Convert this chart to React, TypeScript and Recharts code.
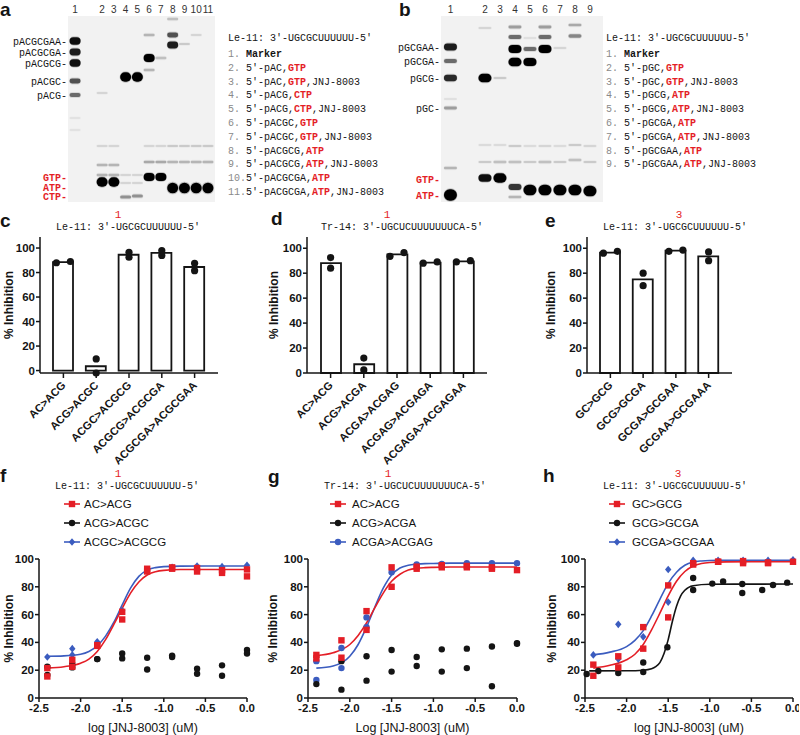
import React from "react";
import { Bar, ComposedChart, Legend, Line, Scatter, ScatterChart, XAxis, YAxis } from "recharts";

const SANS = "'Liberation Sans', Arial, Helvetica, sans-serif";
const MONO = "'Liberation Mono', 'Courier New', monospace";
const RED = "#E41E26";
const BLUE = "#3B5CBF";
const INK = "#141414";

// ---- a: gel, Le-11 primer extension ----
const lanesA = [1, 2, 3, 4, 5, 6, 7, 8, 9, 10, 11];
const markerNamesA = ["pACGCGAA", "pACGCGA", "pACGCG", "pACGC", "pACG", "GTP", "ATP", "CTP"];
const markerPosA = [41, 52, 63, 81, 95, 177, 187, 196];
// [lane, migration (px from top), band strength]
const bandsA = [
  [1, 41, 0.95], [1, 52, 0.9], [1, 63, 0.95], [1, 81, 0.7], [1, 95, 0.6], [1, 118, 0.08], [1, 130, 0.08],
  [2, 93, 0.15], [2, 146, 0.15], [2, 165, 0.3], [2, 175, 0.3], [2, 182, 1.1],
  [3, 146, 0.15], [3, 165, 0.3], [3, 175, 0.3], [3, 182, 1.1],
  [4, 77, 1.1], [4, 175, 0.15], [4, 183, 0.15], [4, 197, 0.45],
  [5, 77, 1.1], [5, 175, 0.15], [5, 183, 0.15], [5, 196, 0.45],
  [6, 35, 0.3], [6, 58, 1.0], [6, 70, 0.3], [6, 146, 0.15], [6, 162, 0.35], [6, 177, 1.0],
  [7, 58, 0.25], [7, 146, 0.15], [7, 162, 0.35], [7, 177, 1.0],
  [8, 19, 0.25], [8, 35, 0.7], [8, 45, 0.9], [8, 146, 0.2], [8, 162, 0.3], [8, 188, 1.2],
  [9, 44, 0.2], [9, 146, 0.2], [9, 162, 0.3], [9, 188, 1.2],
  [10, 35, 0.15], [10, 146, 0.2], [10, 162, 0.3], [10, 188, 1.2],
  [11, 146, 0.2], [11, 162, 0.3], [11, 188, 1.2],
];
const laneTextA = [
  "Marker", "5′-pAC,GTP", "5′-pAC,GTP,JNJ-8003", "5′-pACG,CTP", "5′-pACG,CTP,JNJ-8003",
  "5′-pACGC,GTP", "5′-pACGC,GTP,JNJ-8003", "5′-pACGCG,ATP", "5′-pACGCG,ATP,JNJ-8003",
  "5′-pACGCGA,ATP", "5′-pACGCGA,ATP,JNJ-8003",
];

// ---- b: gel ----
const lanesB = [1, 2, 3, 4, 5, 6, 7, 8, 9];
const markerNamesB = ["pGCGAA", "pGCGA", "pGCG", "pGC", "GTP", "ATP"];
const markerPosB = [47, 61, 78, 108, 179, 195];
const bandsB = [
  [1, 47, 0.9], [1, 61, 0.6], [1, 78, 0.85], [1, 99, 0.1], [1, 108, 0.4], [1, 168, 0.3], [1, 195, 1.25],
  [2, 28, 0.15], [2, 78, 1.05], [2, 145, 0.12], [2, 162, 0.2], [2, 178, 0.95],
  [3, 78, 0.2], [3, 145, 0.12], [3, 162, 0.25], [3, 178, 1.1],
  [4, 27, 0.4], [4, 37, 0.6], [4, 49, 1.0], [4, 62, 1.05], [4, 146, 0.2], [4, 162, 0.25], [4, 187, 0.8], [4, 197, 0.3],
  [5, 38, 0.1], [5, 49, 0.6], [5, 62, 1.0], [5, 146, 0.12], [5, 162, 0.2], [5, 190, 1.2],
  [6, 27, 0.4], [6, 37, 0.6], [6, 49, 1.0], [6, 146, 0.15], [6, 162, 0.25], [6, 190, 1.2],
  [7, 48, 0.15], [7, 146, 0.12], [7, 162, 0.2], [7, 190, 1.2],
  [8, 25, 0.35], [8, 36, 0.5], [8, 145, 0.2], [8, 160, 0.25], [8, 190, 1.2],
  [9, 146, 0.15], [9, 162, 0.2], [9, 191, 1.2],
];
const laneTextB = [
  "Marker", "5′-pGC,GTP", "5′-pGC,GTP,JNJ-8003", "5′-pGCG,ATP", "5′-pGCG,ATP,JNJ-8003",
  "5′-pGCGA,ATP", "5′-pGCGA,ATP,JNJ-8003", "5′-pGCGAA,ATP", "5′-pGCGAA,ATP,JNJ-8003",
];

const LE11 = "Le-11: 3′-UGCGCUUUUUU-5′";
const TR14 = "Tr-14: 3′-UGCUCUUUUUUUCA-5′";

// ---- c, d, e: single-dose inhibition ----
const catsC = ["AC>ACG", "ACG>ACGC", "ACGC>ACGCG", "ACGCG>ACGCGA", "ACGCGA>ACGCGAA"];
const meanC = [88.5, 3.5, 94.5, 96, 84.5];
const rep1C = [88, 9.5, 92.5, 94, 87.5];
const rep2C = [89, -2, 96.5, 98, 81.5];

const catsD = ["AC>ACG", "ACG>ACGA", "ACGA>ACGAG", "ACGAG>ACGAGA", "ACGAGA>ACGAGAA"];
const meanD = [88, 7, 95, 88.5, 89.5];
const rep1D = [92.5, 12, 93.5, 88, 89];
const rep2D = [84, 2.5, 96.5, 89, 90];

const catsE = ["GC>GCG", "GCG>GCGA", "GCGA>GCGAA", "GCGAA>GCGAAA"];
const meanE = [96.5, 75, 98, 93.5];
const rep1E = [96, 80, 97.5, 97];
const rep2E = [97.5, 70, 98.5, 90];

const pctTicks = [0, 20, 40, 60, 80, 100];
const doseTicks = [-2.5, -2.0, -1.5, -1.0, -0.5, 0];

// ---- f, g, h: dose response ----
const doses = [-2.4, -2.1, -1.8, -1.5, -1.2, -0.9, -0.6, -0.3, 0];
const fitX = [-2.4, -2.2, -2.0, -1.9, -1.8, -1.7, -1.6, -1.5, -1.4, -1.3, -1.2, -1.1, -1.0, -0.8, -0.5, 0];

const fAcgA = [21.5, 27.5, 38, 62, 93, 94, 93.5, 92, 92.5];
const fAcgB = [15.5, 22.5, 37.5, 56.5, 91, 93, 91, 90, 87.5];
const fAcgcA = [22.5, 24.5, 28, 32, 29, 30.5, 21, 23.5, 34.5];
const fAcgcB = [16.5, 22, 28, 28.5, 20.5, 29.5, 17.5, 16, 32];
const fAcgcgA = [29.5, 35.5, 40.5, 63, 92, 94, 95, 94.5, 95.5];
const fAcgcgB = [null, 31, null, null, null, null, null, null, null];
const fAcgFit = [21.5, 22.5, 25, 28, 33.5, 42, 53, 64.5, 75.5, 83.5, 88.5, 90.8, 91.8, 92.4, 92.5, 92.5];
const fAcgcgFit = [30, 30.3, 31.5, 33.5, 37.5, 44.5, 54.5, 67, 79, 87.5, 92, 93.8, 94.5, 94.9, 95, 95];

const gAcgA = [31, 41.5, 62.5, 94, 94.5, 95.5, 95, 94, 92];
const gAcgB = [28.5, 29, 49, 80, 93, 94, 94, 93, null];
const gAcgaA = [10, 26.5, 30, 34.5, 29.5, 35, 35.5, 37, 39.5];
const gAcgaB = [null, 6, 12.5, 19, 23, 19, 21.5, 8.5, 39];
const gAcgagA = [26.5, 36, 58, 90.5, 96, 96.5, 97, 97, 97];
const gAcgagB = [13, 21.5, 51, null, null, null, null, null, null];
const gAcgFit = [30.5, 32.5, 38.5, 45, 54, 65, 75.5, 84, 89, 92, 93.3, 93.8, 94, 94.2, 94.2, 94.2];
const gAcgagFit = [21.5, 23, 30, 38.5, 51, 65.5, 79, 88.5, 93.5, 95.5, 96.3, 96.7, 96.8, 97, 97, 97];

const hGcgA = [24, 30, 51, 81, 97, 98, 98.5, 97.5, 98];
const hGcgB = [16, 22, 35.5, 58, 96, 98, 97, 97, null];
const hGcgaaA = [31, 53, 44, 92.5, 99, 99, 99, 99, 99.5];
const hGcgaaB = [null, 28, null, 69, null, null, null, null, null];
const hGcgaX = [-2.48, -2.34, -2.1, -1.8, -1.8, -1.51, -1.2, -1.2, -0.97, -0.84, -0.61, -0.61, -0.37, -0.24, -0.07];
const hGcgaY = [17.3, 19.4, 18, 18.7, 25.5, 36.5, 86.3, 77.7, 82.3, 83.8, 82, 75.5, 77.7, 81.3, 83];
const hGcgFit = [21.5, 23.5, 27.5, 31.5, 38.5, 49, 61, 73.5, 84, 91, 95, 96.8, 97.5, 97.9, 98, 98];
const hGcgaaFit = [31, 33, 37, 41.5, 48.5, 59, 71, 82.5, 90.5, 95.5, 97.8, 98.6, 98.9, 99, 99, 99];
const hGcgaFitX = [-2.45, -2.0, -1.8, -1.7, -1.65, -1.6, -1.55, -1.5, -1.45, -1.4, -1.35, -1.3, -1.2, -1.0, 0];
const hGcgaFit = [19.5, 19.6, 20, 21, 22.5, 25.5, 32, 42, 55, 66, 73.5, 77.5, 80.8, 81.8, 82];

const pts = (xs: number[], ...sets: (number | null)[][]) =>
  sets.flatMap((ys) => ys.flatMap((y, i) => (y == null ? [] : [{ x: xs[i], y }])));
const fit = (xs: number[], ys: number[]) => xs.map((x, i) => ({ x, y: ys[i] }));

const seriesF = [
  { name: "AC>ACG", color: RED, marker: "square", points: pts(doses, fAcgA, fAcgB), curve: fit(fitX, fAcgFit) },
  { name: "ACG>ACGC", color: INK, marker: "circle", points: pts(doses, fAcgcA, fAcgcB) },
  { name: "ACGC>ACGCG", color: BLUE, marker: "diamond", points: pts(doses, fAcgcgA, fAcgcgB), curve: fit(fitX, fAcgcgFit) },
];
const seriesG = [
  { name: "AC>ACG", color: RED, marker: "square", points: pts(doses, gAcgA, gAcgB), curve: fit(fitX, gAcgFit) },
  { name: "ACG>ACGA", color: INK, marker: "circle", points: pts(doses, gAcgaA, gAcgaB) },
  { name: "ACGA>ACGAG", color: BLUE, marker: "circle", points: pts(doses, gAcgagA, gAcgagB), curve: fit(fitX, gAcgagFit) },
];
const seriesH = [
  { name: "GC>GCG", color: RED, marker: "square", points: pts(doses, hGcgA, hGcgB), curve: fit(fitX, hGcgFit) },
  { name: "GCG>GCGA", color: INK, marker: "circle", points: pts(hGcgaX, hGcgaY), curve: fit(hGcgaFitX, hGcgaFit) },
  { name: "GCGA>GCGAA", color: BLUE, marker: "diamond", points: pts(doses, hGcgaaA, hGcgaaB), curve: fit(fitX, hGcgaaFit) },
];

const axisPen = { stroke: INK, strokeWidth: 1.5 };
const tickFont = { fontSize: 11.5, fontWeight: 700, fill: INK, fontFamily: SANS };

// lane 1 (marker) sits a little apart from the rest
const laneSlot = (lane: number) => (lane === 1 ? 0.7 : lane + 1);

function GelBand({ cx, cy, payload, w }: any) {
  const v = payload.v;
  const h = 2 + 6 * v * v;
  const a = Math.min(1, 0.6 * v + 0.4 * v * v);
  return (
    <g>
      <rect x={cx - w / 2 - 0.5} y={cy - h / 2 - 1} width={w + 1} height={h + 2} rx={Math.min((h + 2) / 2, w / 2)} fill="#000" fillOpacity={a * 0.2} />
      <rect x={cx - w / 2} y={cy - h / 2} width={w} height={h} rx={Math.min(h / 2, w / 2)} fill="#000" fillOpacity={a} />
    </g>
  );
}

function MarkerTick({ x, y, payload, names, positions }: any) {
  const name = names[positions.indexOf(payload.value)];
  const ntp = /TP$/.test(name);
  return (
    <text x={x} y={y} dy={3.5} textAnchor="end" fontFamily={MONO} fontSize={10} fontWeight={ntp ? 700 : 400} fill={ntp ? RED : INK}>
      {name}-
    </text>
  );
}

function Gel({ left, axisWidth, plotWidth, xDomain, lanes, markerNames, markerPos, bands, bandWidth }: any) {
  const data = bands.map(([lane, pos, v]: number[]) => ({ slot: laneSlot(lane), pos, v }));
  const slots = lanes.map(laneSlot);
  return (
    <div style={{ position: "absolute", left, top: 0 }}>
      <div style={{ position: "absolute", left: axisWidth, top: 16, width: plotWidth, height: 186, background: "#f2f2f2" }} />
      <ScatterChart width={axisWidth + plotWidth} height={202} margin={{ top: 0, right: 0, bottom: 0, left: 0 }}>
        <XAxis
          type="number" dataKey="slot" orientation="top" height={16} domain={xDomain} ticks={slots} interval={0}
          tickFormatter={(s: number) => String(lanes[slots.indexOf(s)])}
          axisLine={false} tickLine={false} tickSize={0} tickMargin={3}
          tick={{ fontSize: 10, fill: "#333", fontFamily: SANS }} allowDataOverflow
        />
        <YAxis
          type="number" dataKey="pos" reversed domain={[16, 202]} width={axisWidth} ticks={markerPos} interval={0}
          axisLine={false} tickLine={false} tickSize={0} tickMargin={1}
          tick={(p: any) => <MarkerTick {...p} names={markerNames} positions={markerPos} />} allowDataOverflow
        />
        <Scatter data={data} isAnimationActive={false} shape={(p: any) => <GelBand {...p} w={bandWidth} />} />
      </ScatterChart>
    </div>
  );
}

function GelKey({ left, template, items }: any) {
  return (
    <div style={{ position: "absolute", left, top: 32, fontFamily: MONO, fontSize: 10, lineHeight: "13.8px", color: INK, whiteSpace: "pre" }}>
      <div style={{ height: 16 }}>{template}</div>
      {items.map((t: string, i: number) => (
        <div key={i}>
          <span style={{ color: "#8a8a8a" }}>{`${i + 1}.`.padEnd(3, " ")}</span>
          {t.split(",").map((part, j) => (
            <React.Fragment key={j}>
              {j > 0 ? "," : ""}
              <span style={/TP$/.test(part) ? { color: RED, fontWeight: 700 } : part === "Marker" ? { fontWeight: 700 } : undefined}>{part}</span>
            </React.Fragment>
          ))}
        </div>
      ))}
    </div>
  );
}

const centered = (x: number, y: number): React.CSSProperties => ({
  position: "absolute", left: x, top: y, transform: "translate(-50%, -50%)", whiteSpace: "pre", lineHeight: 1,
});

function Heading({ num, numX, numY, textX, textY, text }: any) {
  return (
    <>
      <div style={{ ...centered(numX, numY), color: RED, fontFamily: MONO, fontSize: 11 }}>{num}</div>
      <div style={{ ...centered(textX, textY), fontFamily: MONO, fontSize: 10, color: INK }}>{text}</div>
    </>
  );
}

function PanelLetter({ x, y, children }: any) {
  return (
    <div style={{ position: "absolute", left: x, top: y, fontFamily: SANS, fontWeight: 700, fontSize: 19, lineHeight: "19px", color: INK }}>
      {children}
    </div>
  );
}

function YTitle({ viewBox, dx }: any) {
  const x = viewBox.x + dx;
  const y = viewBox.y + viewBox.height / 2;
  return (
    <text x={x} y={y} transform={`rotate(-90 ${x} ${y})`} textAnchor="middle" dominantBaseline="central" fontFamily={SANS} fontSize={12} fontWeight={700} fill={INK}>
      % Inhibition
    </text>
  );
}

function XTitle({ viewBox, text }: any) {
  return (
    <text x={viewBox.x + viewBox.width / 2} y={viewBox.y + 33.5} textAnchor="middle" fontFamily={SANS} fontSize={12.5} fill={INK}>
      {text}
    </text>
  );
}

function SlantTick({ x, y, payload }: any) {
  const ax = x + 3;
  const ay = y + 6;
  return (
    <text x={ax} y={ay} transform={`rotate(-45 ${ax} ${ay})`} textAnchor="end" fontFamily={SANS} fontSize={11} fontWeight={700} fill={INK}>
      {payload.value}
    </text>
  );
}

// replicate dots: spread sideways when the two values nearly coincide
function RepDot({ cx, cy, payload, side }: any) {
  const dx = Math.abs(payload.r1 - payload.r2) < 4 ? side * 7 : 0;
  return <circle cx={cx + dx} cy={cy} r={3.6} fill={INK} />;
}

function InhibitionBars({ left, axisW, plotWidth, cats, mean, rep1, rep2, yTitleX }: any) {
  const rows = cats.map((name: string, i: number) => ({ name, mean: mean[i], r1: rep1[i], r2: rep2[i] }));
  return (
    <div style={{ position: "absolute", left, top: 230 }}>
      <ComposedChart width={axisW + plotWidth + 10} height={245} data={rows} margin={{ top: 7, right: 10, bottom: 0, left: 0 }}>
        <XAxis
          dataKey="name" type="category" interval={0} height={102} padding={{ left: 7, right: 7 }}
          axisLine={axisPen} tickLine={axisPen} tickSize={5} tick={<SlantTick />}
        />
        <YAxis
          type="number" domain={[0, 109]} ticks={pctTicks} interval={0} width={axisW}
          axisLine={axisPen} tickLine={axisPen} tickSize={4} tickMargin={1} tick={tickFont}
          label={{ value: "% Inhibition", content: (p: any) => <YTitle viewBox={p.viewBox} dx={yTitleX} /> }}
        />
        <Bar dataKey="mean" fill="#fff" stroke={INK} strokeWidth={1.8} barSize={20} isAnimationActive={false} />
        <Scatter dataKey="r1" isAnimationActive={false} shape={(p: any) => <RepDot {...p} side={-1} />} />
        <Scatter dataKey="r2" isAnimationActive={false} shape={(p: any) => <RepDot {...p} side={1} />} />
      </ComposedChart>
    </div>
  );
}

function Marker({ kind, cx, cy, color }: any) {
  if (kind === "square") return <rect x={cx - 3.2} y={cy - 3.2} width={6.4} height={6.4} fill={color} />;
  if (kind === "diamond")
    return <polygon points={`${cx},${cy - 3.8} ${cx + 3.2},${cy} ${cx},${cy + 3.8} ${cx - 3.2},${cy}`} fill={color} />;
  return <circle cx={cx} cy={cy} r={3.2} fill={color} />;
}

function DoseKey({ series, markX, textX }: any) {
  return (
    <svg width={250} height={72} style={{ display: "block" }}>
      {series.map((s: any, i: number) => {
        const y = 24 + 19 * i;
        return (
          <g key={s.name}>
            <line x1={markX - 8} x2={markX + 8} y1={y} y2={y} stroke={s.color} strokeWidth={1.6} />
            <Marker kind={s.marker} cx={markX} cy={y} color={s.color} />
            <text x={textX} y={y + 4.2} fontFamily={SANS} fontSize={11.5} fill={INK}>{s.name}</text>
          </g>
        );
      })}
    </svg>
  );
}

function DoseChart({ left, axisW, plotWidth, right, series, xTitle, yTitleX, markX, textX }: any) {
  const back = [...series].reverse();
  return (
    <div style={{ position: "absolute", left, top: 480 }}>
      <ComposedChart width={axisW + plotWidth + right} height={255} margin={{ top: 79, right, bottom: 0, left: 0 }}>
        <XAxis
          type="number" dataKey="x" domain={[-2.5, 0]} ticks={doseTicks} interval={0} height={37}
          tickFormatter={(v: number) => v.toFixed(1)} axisLine={axisPen} tickLine={axisPen} tickSize={4} tickMargin={2}
          tick={tickFont} label={{ value: xTitle, content: (p: any) => <XTitle viewBox={p.viewBox} text={xTitle} /> }}
        />
        <YAxis
          type="number" domain={[0, 100]} ticks={pctTicks} interval={0} width={axisW}
          axisLine={axisPen} tickLine={axisPen} tickSize={4} tickMargin={1} tick={tickFont}
          label={{ value: "% Inhibition", content: (p: any) => <YTitle viewBox={p.viewBox} dx={yTitleX} /> }}
        />
        <Legend
          layout="horizontal" verticalAlign="middle" align="center"
          wrapperStyle={{ left: 0, top: 0, width: 250, height: 72 }}
          content={() => <DoseKey series={series} markX={markX} textX={textX} />}
        />
        {back.filter((s: any) => s.curve).map((s: any) => (
          <Line key={`fit-${s.name}`} data={s.curve} dataKey="y" type="monotone" stroke={s.color} strokeWidth={1.6} dot={false} activeDot={false} isAnimationActive={false} />
        ))}
        {back.map((s: any) => (
          <Scatter key={`pts-${s.name}`} data={s.points} dataKey="y" fill={s.color} isAnimationActive={false}
            shape={(p: any) => <Marker kind={s.marker} cx={p.cx} cy={p.cy} color={s.color} />} />
        ))}
      </ComposedChart>
    </div>
  );
}

export default function App() {
  return (
    <div style={{ position: "absolute", left: 0, top: 0, width: 800, height: 735, background: "#fff", overflow: "hidden" }}>
      <Gel left={0} axisWidth={68} plotWidth={147} xDomain={[0.1, 12.6]} lanes={lanesA}
        markerNames={markerNamesA} markerPos={markerPosA} bands={bandsA} bandWidth={11} />
      <GelKey left={228} template={LE11} items={laneTextA} />
      <Gel left={398} axisWidth={43} plotWidth={162} xDomain={[0.07, 10.87]} lanes={lanesB}
        markerNames={markerNamesB} markerPos={markerPosB} bands={bandsB} bandWidth={13} />
      <GelKey left={606} template={LE11} items={laneTextB} />

      <InhibitionBars left={0} axisW={40} plotWidth={178} cats={catsC} mean={meanC} rep1={rep1C} rep2={rep2C} yTitleX={9} />
      <InhibitionBars left={267} axisW={40} plotWidth={180} cats={catsD} mean={meanD} rep1={rep1D} rep2={rep2D} yTitleX={7} />
      <InhibitionBars left={543} axisW={44} plotWidth={145} cats={catsE} mean={meanE} rep1={rep1E} rep2={rep2E} yTitleX={8} />

      <DoseChart left={0} axisW={39} plotWidth={208} right={12} series={seriesF} xTitle="log [JNJ-8003] (uM)" yTitleX={9} markX={72} textX={84} />
      <DoseChart left={265} axisW={43} plotWidth={209} right={10} series={seriesG} xTitle="Log [JNJ-8003] (uM)" yTitleX={8} markX={73} textX={87} />
      <DoseChart left={542} axisW={43} plotWidth={208} right={6} series={seriesH} xTitle="log [JNJ-8003] (uM)" yTitleX={10} markX={75} textX={90} />

      <Heading num="1" numX={118} numY={215} textX={128} textY={228} text={LE11} />
      <Heading num="1" numX={387} numY={215} textX={402} textY={228} text={TR14} />
      <Heading num="3" numX={679} numY={215} textX={675} textY={228} text={LE11} />
      <Heading num="1" numX={118} numY={474} textX={127} textY={487} text={LE11} />
      <Heading num="1" numX={388} numY={474} textX={405} textY={487} text={TR14} />
      <Heading num="3" numX={678} numY={474} textX={675} textY={487} text={LE11} />

      <PanelLetter x={0} y={0}>a</PanelLetter>
      <PanelLetter x={399} y={0}>b</PanelLetter>
      <PanelLetter x={0} y={211}>c</PanelLetter>
      <PanelLetter x={271} y={209}>d</PanelLetter>
      <PanelLetter x={545} y={211}>e</PanelLetter>
      <PanelLetter x={0} y={466}>f</PanelLetter>
      <PanelLetter x={268} y={467}>g</PanelLetter>
      <PanelLetter x={543} y={466}>h</PanelLetter>
    </div>
  );
}
